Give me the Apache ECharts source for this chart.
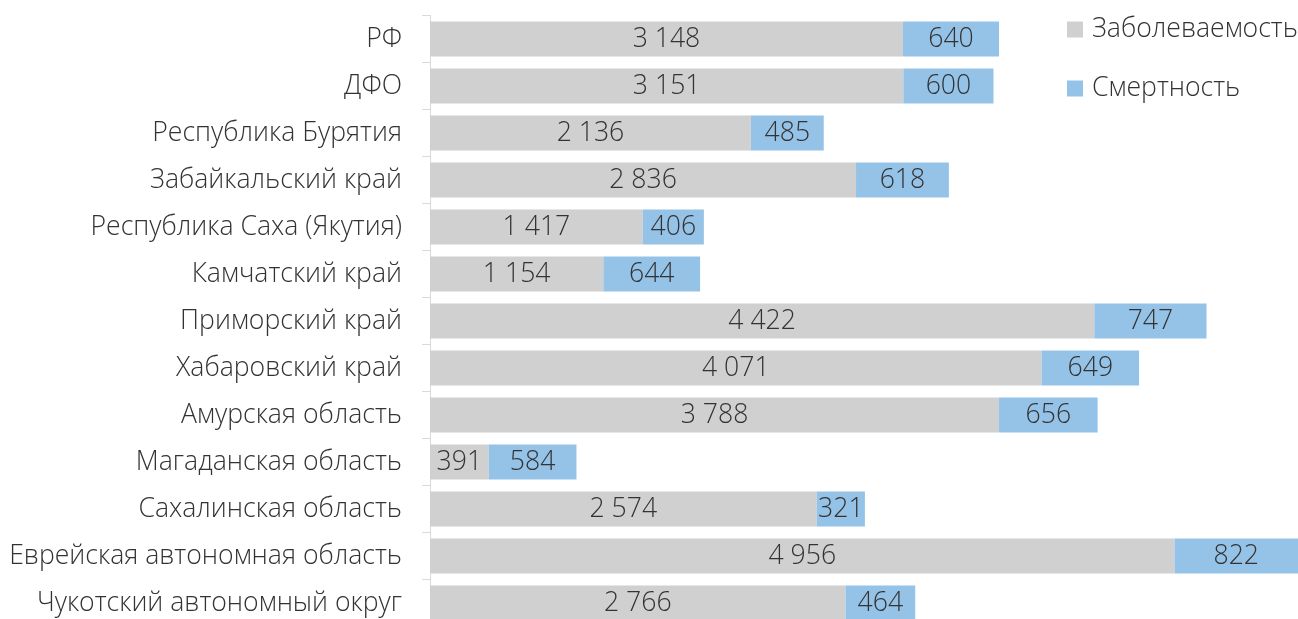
<!DOCTYPE html>
<html>
<head>
<meta charset="utf-8">
<script src="https://cdn.jsdelivr.net/npm/echarts@6/dist/echarts.min.js"></script>
<style>
  html, body { margin: 0; padding: 0; background: #fff; overflow: hidden; }
  #chart { width: 1298px; height: 627px; }
</style>
</head>
<body>
<div id="chart"></div>
<script>
var regions = [
  "РФ", "ДФО", "Республика Бурятия", "Забайкальский край", "Республика Саха (Якутия)",
  "Камчатский край", "Приморский край", "Хабаровский край", "Амурская область",
  "Магаданская область", "Сахалинская область", "Еврейская автономная область",
  "Чукотский автономный округ"
];
var morbidity = [3148, 3151, 2136, 2836, 1417, 1154, 4422, 4071, 3788, 391, 2574, 4956, 2766];
var mortality = [640, 600, 485, 618, 406, 644, 747, 649, 656, 584, 321, 822, 464];

var FONT = "'Open Sans', 'Noto Sans', sans-serif";
var TEXT = "#333";

function fmt(v) {
  return String(v).replace(/\B(?=(\d{3})+(?!\d))/g, " ");
}

// chart is a bit taller than the window: the last row is cut off like in the original
var chart = echarts.init(document.getElementById("chart"));
var option = {
  backgroundColor: "#fff",
  animation: false,
  textStyle: { fontFamily: FONT },
  legend: {
    orient: "vertical",
    left: 1067,
    top: 16,
    padding: 0,
    itemWidth: 16,
    itemHeight: 16,
    itemGap: 32,
    icon: "rect",
    textStyle: { fontFamily: FONT, fontWeight: 300, fontSize: 26.6, color: TEXT, padding: [0, 0, 0, 4] },
    data: ["Заболеваемость", "Смертность"]
  },
  grid: {
    left: 430,
    right: 0,
    top: 15.5,
    bottom: 0.5
  },
  xAxis: {
    type: "value",
    min: 0,
    max: 5778,
    show: false
  },
  yAxis: {
    type: "category",
    inverse: true,
    data: regions,
    axisLine: { show: true, lineStyle: { color: "#d9d9d9", width: 1 } },
    axisTick: { show: true, length: 8, lineStyle: { color: "#d9d9d9" } },
    axisLabel: {
      margin: 28,
      fontFamily: FONT,
      fontWeight: 300,
      fontSize: 26.6,
      color: TEXT
    }
  },
  series: [
    {
      name: "Заболеваемость",
      type: "bar",
      stack: "total",
      barWidth: 35,
      itemStyle: { color: "#d0d0d0" },
      label: {
        show: true,
        position: "inside",
        fontFamily: FONT,
        fontWeight: 300,
        fontSize: 26.6,
        color: TEXT,
        formatter: function (p) { return fmt(p.value); }
      },
      data: morbidity
    },
    {
      name: "Смертность",
      type: "bar",
      stack: "total",
      barWidth: 35,
      itemStyle: { color: "#95c2e7" },
      label: {
        show: true,
        position: "inside",
        fontFamily: FONT,
        fontWeight: 300,
        fontSize: 26.6,
        color: TEXT,
        formatter: function (p) { return fmt(p.value); }
      },
      data: mortality
    }
  ]
};
chart.setOption(option);
</script>
</body>
</html>
